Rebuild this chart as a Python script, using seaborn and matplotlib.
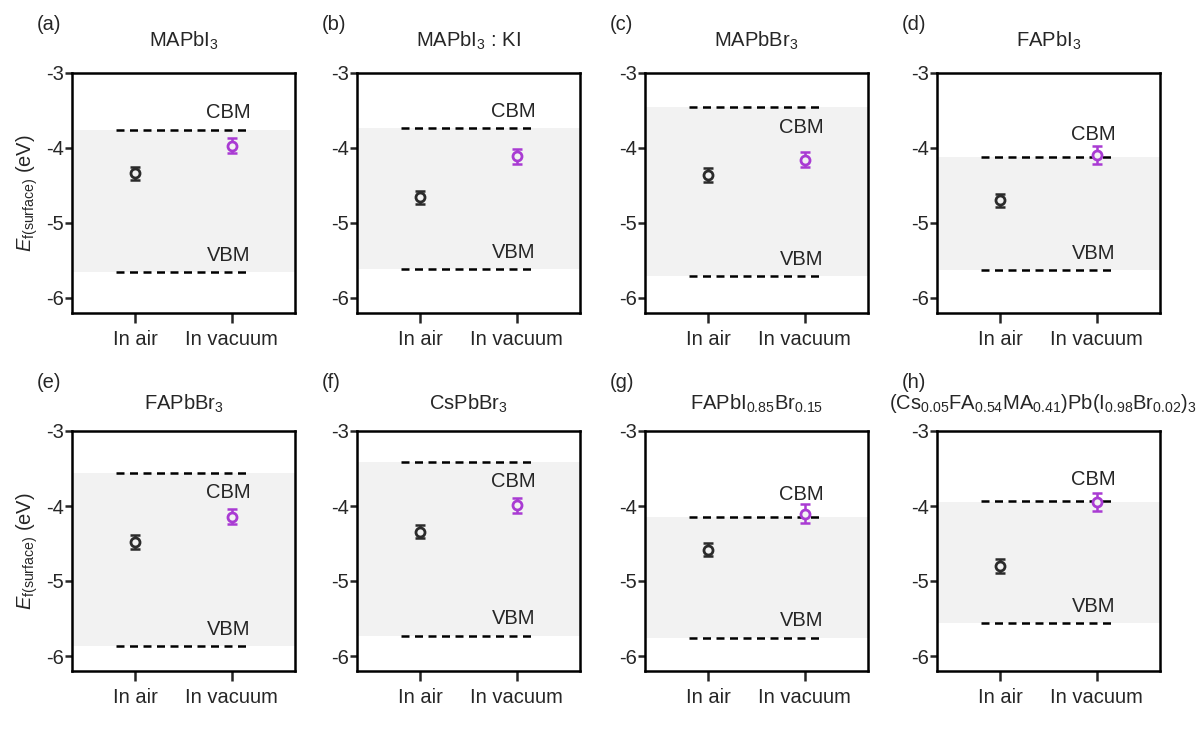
import numpy as np
import pandas as pd
import matplotlib
matplotlib.use("Agg")
import matplotlib.pyplot as plt
import seaborn as sns

sns.set_style("ticks")
plt.rcParams["font.family"] = ["Liberation Sans", "DejaVu Sans"]
plt.rcParams["mathtext.fontset"] = "custom"
plt.rcParams["mathtext.rm"] = "Liberation Sans"
plt.rcParams["mathtext.it"] = "Liberation Sans:italic"
plt.rcParams["mathtext.default"] = "regular"
plt.rcParams["axes.unicode_minus"] = False

# panel data (eV)
panel_tags = ["(a)", "(b)", "(c)", "(d)", "(e)", "(f)", "(g)", "(h)"]
titles = [
    "MAPbI$_3$",
    "MAPbI$_3$ : KI",
    "MAPbBr$_3$",
    "FAPbI$_3$",
    "FAPbBr$_3$",
    "CsPbBr$_3$",
    "FAPbI$_{0.85}$Br$_{0.15}$",
    "(Cs$_{0.05}$FA$_{0.54}$MA$_{0.41}$)Pb(I$_{0.98}$Br$_{0.02}$)$_3$",
]
cbm = [-3.76, -3.74, -3.46, -4.12, -3.56, -3.41, -4.14, -3.94]
vbm = [-5.66, -5.62, -5.71, -5.63, -5.87, -5.73, -5.76, -5.56]
air = [-4.34, -4.66, -4.36, -4.70, -4.48, -4.34, -4.58, -4.80]
vac = [-3.97, -4.11, -4.16, -4.10, -4.14, -3.99, -4.10, -3.95]
air_err = [0.09, 0.09, 0.09, 0.09, 0.09, 0.09, 0.09, 0.09]
vac_err = [0.10, 0.10, 0.10, 0.12, 0.10, 0.10, 0.12, 0.12]
conditions = ["In air", "In vacuum"]

COLORS = {"In air": "#2b2b2b", "In vacuum": "#a93bd3"}
SHADE = "#f2f2f2"
FS = 14.5

fig = plt.figure(figsize=(12.02, 7.33), dpi=100)
W, H = 1202, 733
col_left = [72, 357, 645, 937]
row_top = [73, 431]
ax_w, ax_h = 223, 240

for i in range(8):
    r, c = divmod(i, 4)
    ax = fig.add_axes([col_left[c] / W, 1 - (row_top[r] + ax_h) / H, ax_w / W, ax_h / H])

    df = pd.DataFrame({"cond": conditions, "E": [air[i], vac[i]],
                       "err": [air_err[i], vac_err[i]]})

    ax.axhspan(vbm[i], cbm[i], color=SHADE, lw=0, zorder=0)
    for lvl in (cbm[i], vbm[i]):
        ax.plot([-0.2, 1.2], [lvl, lvl], ls=(0, (3.2, 2.2)), color="black", lw=1.8, zorder=1)

    for k, row in df.iterrows():
        ax.errorbar(k, row["E"], yerr=row["err"], fmt="none", ecolor=COLORS[row["cond"]],
                    elinewidth=1.8, capsize=3.5, capthick=1.8, zorder=2)

    sns.pointplot(data=df, x="cond", y="E", hue="cond", palette=COLORS, errorbar=None,
                  linestyle="none", markers="o", markersize=6.5, markerfacecolor=SHADE,
                  markeredgewidth=2, legend=False, ax=ax, zorder=3)

    # band edge labels
    if cbm[i] > -3.6:
        ax.text(1.2, cbm[i] - 0.14, "CBM", ha="right", va="top", fontsize=FS)
    else:
        gap = 0.17 if abs(vac[i] - cbm[i]) < 0.1 else 0.1
        ax.text(1.2, cbm[i] + gap, "CBM", ha="right", va="bottom", fontsize=FS)
    ax.text(1.2, vbm[i] + 0.1, "VBM", ha="right", va="bottom", fontsize=FS)

    ax.set_xlim(-0.66, 1.66)
    ax.set_ylim(-6.2, -3)
    ax.set_yticks([-3, -4, -5, -6])
    ax.set_yticklabels(["-3", "-4", "-5", "-6"])
    ax.set_xlabel("")
    ax.set_ylabel("")
    ax.tick_params(axis="y", labelsize=FS, width=1.8, length=5, pad=1)
    ax.tick_params(axis="x", labelsize=FS, width=1.8, length=7, pad=5)
    for sp in ax.spines.values():
        sp.set_linewidth(1.8)
        sp.set_color("black")

    if c == 0:
        ax.set_ylabel(r"$\mathit{E}_{f(surface)}$ (eV)", fontsize=FS, labelpad=4)

    title_y = 1.135 if r == 0 else 1.115
    title_x = 0.475 if i == 7 else 0.5
    ax.text(title_x, title_y, titles[i], transform=ax.transAxes, ha="center", va="center",
            fontsize=FS)
    ax.text(-0.16, 1.2, panel_tags[i], transform=ax.transAxes, ha="left", va="center",
            fontsize=FS)

fig.savefig("out.png", dpi=100)
